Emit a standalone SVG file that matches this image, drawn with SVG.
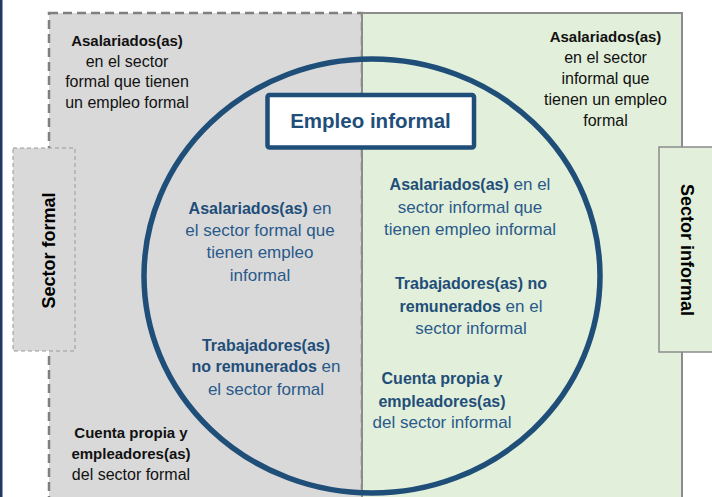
<svg xmlns="http://www.w3.org/2000/svg" width="712" height="497" viewBox="0 0 712 497">
<style>
text{font-family:"Liberation Sans",Arial,sans-serif;text-anchor:middle}
.o{font-size:16px;fill:#111}
.c{font-size:17px;fill:#2a5a8a}
.b{font-weight:bold}
.ob{font-size:15px}
.cb{font-size:16px;fill:#1f4e79}
.lab{font-size:18px;font-weight:bold;fill:#000}
</style>
<rect width="712" height="497" fill="#ffffff"/>
<rect x="0" y="0" width="2.5" height="497" fill="#1f3864"/>
<g id="sector-formal-area">
<rect x="49" y="13" width="313" height="500" fill="#d9d9d9" stroke="#7f7f7f" stroke-width="2.5" stroke-dasharray="9 5"/>
</g>
<g id="sector-informal-area">
<rect x="362" y="13" width="320" height="500" fill="#e2efda" stroke="#8c8c8c" stroke-width="2"/>
</g>
<g id="label-sector-formal">
<rect x="13" y="148" width="62" height="203" fill="#d9d9d9" stroke="#999999" stroke-width="1" stroke-dasharray="4 3"/>
<text class="lab" transform="translate(55,250.5) rotate(-90)">Sector formal</text>
</g>
<g id="label-sector-informal">
<rect x="659" y="147" width="70" height="205" fill="#e2efda" stroke="#8c8c8c" stroke-width="1.5"/>
<text class="lab" transform="translate(681,250) rotate(90)">Sector informal</text>
</g>
<g id="empleo-informal-circle">
<ellipse cx="372" cy="276" rx="228" ry="217" fill="none" stroke="#1f4e79" stroke-width="5.5"/>
</g>
<g id="empleo-informal-title">
<rect x="267.5" y="95" width="206.5" height="52.5" rx="2" fill="#ffffff" stroke="#1f4e79" stroke-width="4.5"/>
<text x="370.5" y="128" style="font-size:20.5px;font-weight:bold;fill:#1f4e79">Empleo informal</text>
</g>
<g id="t-asal-formal-formal">
<text class="o" x="127" y="46"><tspan class="b ob">Asalariados(as)</tspan></text>
<text class="o" x="127" y="66.5">en el sector</text>
<text class="o" x="127" y="87">formal que tienen</text>
<text class="o" x="127" y="108">un empleo formal</text>
</g>
<g id="t-asal-informal-formal">
<text class="o" x="605.5" y="42"><tspan class="b ob">Asalariados(as)</tspan></text>
<text class="o" x="605.5" y="63">en el sector</text>
<text class="o" x="605.5" y="84">informal que</text>
<text class="o" x="605.5" y="105">tienen un empleo</text>
<text class="o" x="605.5" y="126">formal</text>
</g>
<g id="t-cuenta-formal">
<text class="o" x="131" y="438"><tspan class="b ob">Cuenta propia y</tspan></text>
<text class="o" x="131" y="459"><tspan class="b ob">empleadores(as)</tspan></text>
<text class="o" x="131" y="480">del sector formal</text>
</g>
<g id="t-asal-formal-informal">
<text class="c" x="260" y="214"><tspan class="b cb">Asalariados(as)</tspan> en</text>
<text class="c" x="260" y="236">el sector formal que</text>
<text class="c" x="260" y="258">tienen empleo</text>
<text class="c" x="260" y="281">informal</text>
</g>
<g id="t-trab-formal">
<text class="c" x="266" y="351"><tspan class="b cb">Trabajadores(as)</tspan></text>
<text class="c" x="266" y="372"><tspan class="b cb">no remunerados</tspan> en</text>
<text class="c" x="266" y="395">el sector formal</text>
</g>
<g id="t-asal-informal-informal">
<text class="c" x="470" y="190"><tspan class="b cb">Asalariados(as)</tspan> en el</text>
<text class="c" x="470" y="213">sector informal que</text>
<text class="c" x="470" y="235">tienen empleo informal</text>
</g>
<g id="t-trab-informal">
<text class="c" x="471" y="289"><tspan class="b cb">Trabajadores(as) no</tspan></text>
<text class="c" x="471" y="312"><tspan class="b cb">remunerados</tspan> en el</text>
<text class="c" x="471" y="334">sector informal</text>
</g>
<g id="t-cuenta-informal">
<text class="c" x="442" y="384"><tspan class="b cb">Cuenta propia y</tspan></text>
<text class="c" x="442" y="407"><tspan class="b cb">empleadores(as)</tspan></text>
<text class="c" x="442" y="428">del sector informal</text>
</g>
<g id="connectors"></g>
</svg>
